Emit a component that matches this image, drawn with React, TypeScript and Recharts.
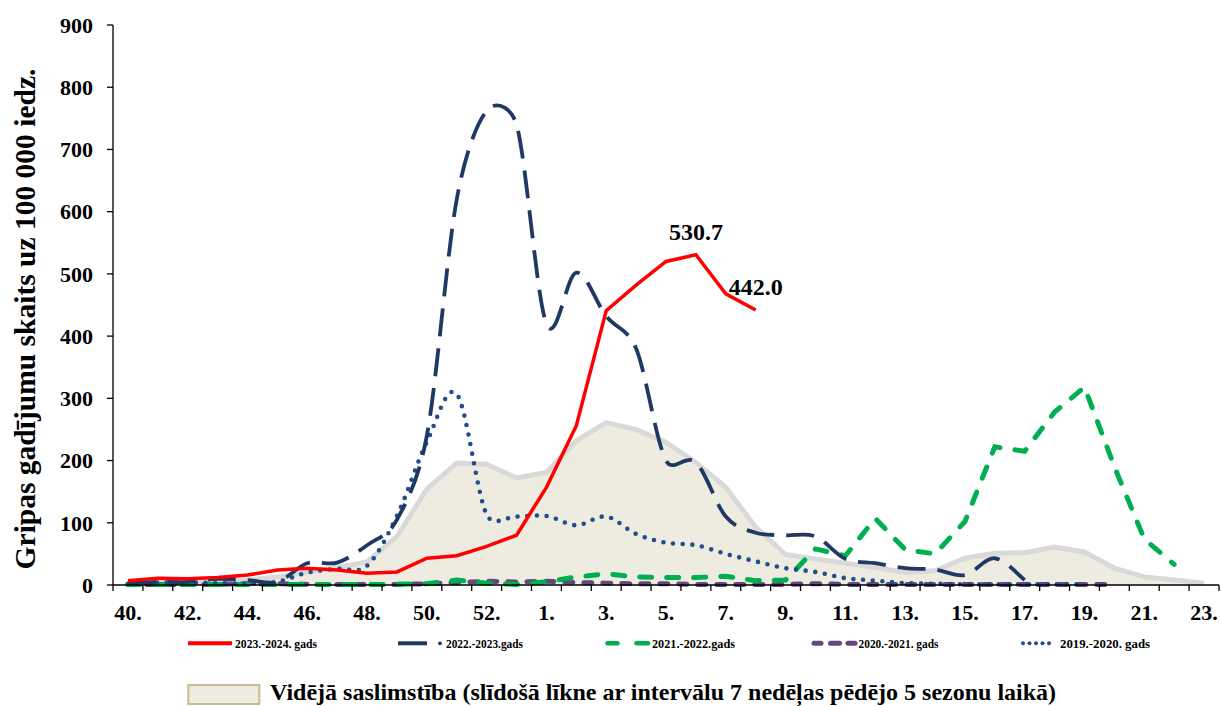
import React from 'react';
import { ComposedChart, Line, Area, XAxis, YAxis, LabelList } from 'recharts';

// ---------- data ----------
const weeks = ['40', '41', '42', '43', '44', '45', '46', '47', '48', '49', '50', '51', '52', '53', '1', '2', '3', '4', '5', '6', '7', '8', '9', '10', '11', '12', '13', '14', '15', '16', '17', '18', '19', '20', '21', '22', '23'];

// average incidence (moving curve, last 5 seasons)
const avgIncidence = [2, 3, 4, 5, 8, 13, 21, 28, 37, 78, 154, 196, 194, 172, 181, 232, 261, 250, 229, 197, 157, 93, 49, 42, 35, 28, 20, 23, 43, 51, 52, 61, 53, 27, 13, 8, 3];

const season2324 = [7, 11, 10, 12, 16, 24, 27, 24, 19, 21, 43, 47, 62, 80, 157, 256, 441, 482, 520, 530.7, 468, 442.0];
const season2223 = [3, 5, 5, 10, 8, 5, 35, 36, 64, 105, 240, 620, 762, 740, 420, 502, 432, 380, 200, 197, 110, 84, 80, 78, 42, 35, 27, 25, 16, 43, 8];
const season2122 = [1, 1, 1, 1, 1, 1, 1, 1, 1, 1, 2, 8, 3, 1, 5, 13, 18, 13, 12, 12, 14, 7, 8, 58, 47, 107, 57, 50, 102, 222, 215, 278, 318, 190, 74, 33];
const season2021 = [1, 1, 1, 1, 2, 2, 1, 1, 1, 1, 2, 4, 6, 5, 6, 4, 3, 2, 2, 1, 1, 1, 1, 2, 1, 1, 1, 1, 1, 1, 1, 1, 1, 1];
const season1920 = [2, 4, 4, 3, 2, 5, 20, 26, 31, 111, 230, 307, 113, 110, 111, 96, 110, 82, 68, 64, 50, 38, 27, 21, 11, 7, 3, 2, 1, 1, 1, 1, 1];

const yTicks = [0, 100, 200, 300, 400, 500, 600, 700, 800, 900];
const labelledWeeks = ['6', '8'];

const seriesNames = {
  s2324: '2023.-2024. gads',
  s2223: '2022.-2023.gads',
  s2122: '2021.-2022.gads',
  s2021: '2020.-2021. gads',
  s1920: '2019.-2020. gads',
  avg: 'Vidējā saslimstība (slīdošā līkne ar intervālu 7 nedēļas pēdējo 5 sezonu laikā)',
};

const data = weeks.map((w, i) => ({
  idx: i,
  week: w,
  avg: avgIncidence[i] ?? null,
  s2324: season2324[i] ?? null,
  s2223: season2223[i] ?? null,
  s2122: season2122[i] ?? null,
  s2021: season2021[i] ?? null,
  s1920: season1920[i] ?? null,
}));

const xTicks: number[] = [];
for (let i = 0; i <= weeks.length; i++) {
  xTicks.push(i - 0.5);
  if (i < weeks.length && i % 2 === 0) xTicks.push(i);
}

// ---------- styles ----------
const FONT = "'Liberation Serif', 'Times New Roman', serif";
const C_RED = '#FF0000';
const C_NAVY = '#1F3864';
const C_GREEN = '#00B050';
const C_PURPLE = '#604A7B';
const C_DOT = '#1F4E8C';
const C_AVG_FILL = '#EEECE1';
const C_AVG_LINE = '#D9D9D9';

// Excel-like smoothed line (Bezier, tangent 1/6, capped at half segment)
const excelSmooth = (context: any) => {
  let pts: number[][] = [];
  return {
    areaStart() {},
    areaEnd() {},
    lineStart() {
      pts = [];
    },
    point(x: number, y: number) {
      pts.push([+x, +y]);
    },
    lineEnd() {
      const n = pts.length;
      if (!n) return;
      context.moveTo(pts[0][0], pts[0][1]);
      if (n === 1) return;
      for (let i = 0; i < n - 1; i++) {
        const p1 = pts[i];
        const p2 = pts[i + 1];
        const p0 = i > 0 ? pts[i - 1] : p1;
        const p3 = i + 2 < n ? pts[i + 2] : p2;
        const d12 = Math.hypot(p2[0] - p1[0], p2[1] - p1[1]);
        const t1x = p2[0] - p0[0];
        const t1y = p2[1] - p0[1];
        const l1 = Math.hypot(t1x, t1y);
        let f1 = 1 / 6;
        if (l1 > 0 && l1 * f1 > d12 / 2) f1 = d12 / 2 / l1;
        const t2x = p3[0] - p1[0];
        const t2y = p3[1] - p1[1];
        const l2 = Math.hypot(t2x, t2y);
        let f2 = 1 / 6;
        if (l2 > 0 && l2 * f2 > d12 / 2) f2 = d12 / 2 / l2;
        context.bezierCurveTo(
          p1[0] + t1x * f1,
          p1[1] + t1y * f1,
          p2[0] - t2x * f2,
          p2[1] - t2y * f2,
          p2[0],
          p2[1]
        );
      }
    },
  };
};

const XTick = (props: any) => {
  const { x, y, payload } = props;
  const v = payload.value;
  if (Number.isInteger(v)) {
    return (
      <text x={x} y={y + 35} textAnchor="middle" fill="#000" style={{ fontFamily: FONT, fontSize: 22, fontWeight: 700 }}>
        {weeks[v] + '.'}
      </text>
    );
  }
  return <line x1={x} x2={x} y1={y} y2={y + 6} stroke="#000" strokeWidth={1.3} />;
};

const YLabel = (props: any) => {
  const vb = props.viewBox || {};
  const cy = (vb.y ?? 25) + (vb.height ?? 560) / 2 + 14;
  return (
    <text
      transform={`translate(35, ${cy}) rotate(-90)`}
      textAnchor="middle"
      fill="#000"
      style={{ fontFamily: FONT, fontSize: 29.5, fontWeight: 700 }}
    >
      Gripas gadījumu skaits uz 100 000 iedz.
    </text>
  );
};

const ValueLabel = (props: any) => {
  const idx = props.index;
  if (idx == null || !labelledWeeks.includes(weeks[idx])) return null;
  const x = props.x ?? props.viewBox?.x;
  const y = props.y ?? props.viewBox?.y;
  if (x == null || y == null) return null;
  return (
    <text x={x} y={y - 15} textAnchor="middle" fill="#000" style={{ fontFamily: FONT, fontSize: 24, fontWeight: 700 }}>
      {Number(props.value).toFixed(1)}
    </text>
  );
};

const legendText = { fontFamily: FONT, fontSize: 13, fontWeight: 700 } as const;

const LegendOverlay = () => (
  <svg width={1221} height={706} style={{ position: 'absolute', left: 0, top: 0, pointerEvents: 'none' }}>
    {/* row 1 */}
    <line x1={188} x2={232} y1={643.3} y2={643.3} stroke={C_RED} strokeWidth={4} />
    <text x={235} y={648.3} textLength={82} lengthAdjust="spacingAndGlyphs" style={legendText}>{seriesNames.s2324}</text>

    <line x1={398} x2={427} y1={643.3} y2={643.3} stroke={C_NAVY} strokeWidth={4} />
    <circle cx={440} cy={643.3} r={1.9} fill={C_NAVY} />
    <text x={446} y={648.3} textLength={77} lengthAdjust="spacingAndGlyphs" style={legendText}>{seriesNames.s2223}</text>

    <line x1={607.5} x2={617.5} y1={643.3} y2={643.3} stroke={C_GREEN} strokeWidth={4.5} strokeLinecap="round" />
    <line x1={636.5} x2={648} y1={643.3} y2={643.3} stroke={C_GREEN} strokeWidth={4.5} strokeLinecap="round" />
    <text x={652} y={648.3} textLength={83} lengthAdjust="spacingAndGlyphs" style={legendText}>{seriesNames.s2122}</text>

    <line x1={814} x2={821} y1={643.3} y2={643.3} stroke={C_PURPLE} strokeWidth={5} strokeLinecap="round" />
    <line x1={830.5} x2={839.5} y1={643.3} y2={643.3} stroke={C_PURPLE} strokeWidth={5} strokeLinecap="round" />
    <line x1={848} x2={855} y1={643.3} y2={643.3} stroke={C_PURPLE} strokeWidth={5} strokeLinecap="round" />
    <text x={858.5} y={648.3} textLength={80} lengthAdjust="spacingAndGlyphs" style={legendText}>{seriesNames.s2021}</text>

    {[1023, 1029.5, 1036, 1042.5, 1049].map((cx) => (
      <circle key={cx} cx={cx} cy={643.3} r={2} fill={C_DOT} />
    ))}
    <text x={1060} y={648.3} textLength={90} lengthAdjust="spacingAndGlyphs" style={legendText}>{seriesNames.s1920}</text>

    {/* row 2 */}
    <rect x={188.3} y={685} width={71} height={19} fill={C_AVG_FILL} stroke="#C4BD97" strokeWidth={2} />
    <text x={270} y={700} style={{ fontFamily: FONT, fontSize: 24, fontWeight: 700 }}>{seriesNames.avg}</text>
  </svg>
);

export default function App() {
  return (
    <div style={{ position: 'absolute', left: 0, top: 0, width: 1221, height: 706, background: '#fff', overflow: 'hidden' }}>
      <ComposedChart width={1221} height={706} data={data} margin={{ top: 25, right: 2, bottom: 81, left: 0 }}>
        <XAxis
          dataKey="idx"
          type="number"
          domain={[-0.5, weeks.length - 0.5]}
          ticks={xTicks}
          interval={0}
          tick={<XTick />}
          tickLine={false}
          tickSize={0}
          tickMargin={0}
          height={40}
          axisLine={{ stroke: '#000', strokeWidth: 1.3 }}
        />
        <YAxis
          type="number"
          domain={[0, 900]}
          ticks={yTicks}
          interval={0}
          width={113}
          tickSize={6}
          tickMargin={14}
          tickLine={{ stroke: '#000', strokeWidth: 1.3 }}
          axisLine={{ stroke: '#000', strokeWidth: 1.3 }}
          tick={{ fill: '#000', fontFamily: FONT, fontSize: 22, fontWeight: 700 }}
          label={<YLabel />}
        />
        <Area
          dataKey="avg"
          name={seriesNames.avg}
          type="linear"
          fill={C_AVG_FILL}
          fillOpacity={1}
          stroke={C_AVG_LINE}
          strokeWidth={5}
          dot={false}
          activeDot={false}
          isAnimationActive={false}
        />
        <Line
          dataKey="s2021"
          name={seriesNames.s2021}
          type="linear"
          stroke={C_PURPLE}
          strokeWidth={5}
          strokeDasharray="8 11"
          strokeLinecap="round"
          dot={false}
          activeDot={false}
          isAnimationActive={false}
        />
        <Line
          dataKey="s2122"
          name={seriesNames.s2122}
          type="linear"
          stroke={C_GREEN}
          strokeWidth={5}
          strokeDasharray="12 15"
          strokeLinecap="round"
          dot={false}
          activeDot={false}
          isAnimationActive={false}
        />
        <Line
          dataKey="s1920"
          name={seriesNames.s1920}
          type={excelSmooth as any}
          stroke={C_DOT}
          strokeWidth={4.6}
          strokeDasharray="0 9.7"
          strokeLinecap="round"
          dot={false}
          activeDot={false}
          isAnimationActive={false}
        />
        <Line
          dataKey="s2223"
          name={seriesNames.s2223}
          type={excelSmooth as any}
          stroke={C_NAVY}
          strokeWidth={3.8}
          strokeDasharray="28 12"
          dot={false}
          activeDot={false}
          isAnimationActive={false}
        />
        <Line
          dataKey="s2324"
          name={seriesNames.s2324}
          type="linear"
          stroke={C_RED}
          strokeWidth={3.5}
          dot={false}
          activeDot={false}
          isAnimationActive={false}
        >
          <LabelList dataKey="s2324" content={<ValueLabel />} />
        </Line>
      </ComposedChart>
      <LegendOverlay />
    </div>
  );
}
